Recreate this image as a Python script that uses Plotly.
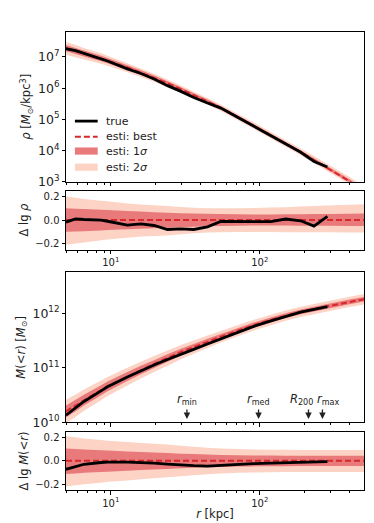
import numpy as np
import plotly.graph_objs as go
from plotly.subplots import make_subplots

# radii [kpc]
r = [5, 5.8, 6.6, 8.6, 9.5, 12.9, 15.9, 19.5, 24, 29.5, 36, 44.5, 54.7, 70.8,
     90, 118.6, 149, 188, 231, 284, 400, 500]
n_true = 20  # true profile stops at r_max

# best-fit profiles (log10)
lg_rho_best = [7.28, 7.19, 7.11, 6.95, 6.88, 6.66, 6.50, 6.34, 6.16, 5.97, 5.78,
               5.58, 5.37, 5.08, 4.81, 4.49, 4.22, 3.95, 3.70, 3.44, 3.02, 2.73]
lg_m_best = [10.20, 10.31, 10.41, 10.59, 10.66, 10.84, 10.96, 11.07, 11.18, 11.29,
             11.38, 11.48, 11.57, 11.68, 11.78, 11.88, 11.96, 12.03, 12.08, 12.13,
             12.21, 12.26]

# residuals of the true profile (lg true - lg best)
d_rho_true = [-0.017, 0.01, 0.005, 0.0, -0.01, -0.043, -0.032, -0.046, -0.08, -0.075,
              -0.08, -0.057, -0.011, -0.012, -0.013, -0.014, 0.009, -0.006, -0.051, 0.031]
d_m_true = [-0.073, -0.05, -0.03, -0.015, -0.011, -0.011, -0.014, -0.02, -0.028, -0.036,
            -0.042, -0.045, -0.038, -0.03, -0.025, -0.02, -0.015, -0.01, -0.008, -0.007]

# density bands (offsets in dex)
rho_2s_up = [0.20, 0.19, 0.18, 0.165, 0.16, 0.14, 0.132, 0.125, 0.12, 0.112, 0.105,
             0.10, 0.10, 0.10, 0.103, 0.107, 0.11, 0.115, 0.12, 0.124, 0.13, 0.134]
rho_2s_lo = [-0.21, -0.20, -0.19, -0.172, -0.166, -0.15, -0.14, -0.135, -0.13, -0.12,
             -0.112, -0.105, -0.103, -0.102, -0.102, -0.102, -0.103, -0.103, -0.104,
             -0.104, -0.105, -0.105]
rho_1s_up = [0.10, 0.097, 0.094, 0.088, 0.085, 0.077, 0.072, 0.067, 0.063, 0.059, 0.056,
             0.053, 0.051, 0.049, 0.048, 0.048, 0.049, 0.05, 0.051, 0.052, 0.054, 0.055]
rho_1s_lo = [-0.10, -0.097, -0.094, -0.088, -0.085, -0.078, -0.074, -0.07, -0.066, -0.061,
             -0.057, -0.053, -0.05, -0.048, -0.046, -0.046, -0.047, -0.048, -0.048,
             -0.049, -0.05, -0.05]

# mass bands (offsets in dex)
m_2s_up = [0.21, 0.20, 0.19, 0.177, 0.172, 0.16, 0.152, 0.145, 0.138, 0.128, 0.12,
           0.112, 0.105, 0.10, 0.097, 0.095, 0.094, 0.093, 0.093, 0.093, 0.093, 0.093]
m_2s_lo = [-0.22, -0.21, -0.20, -0.187, -0.18, -0.168, -0.158, -0.15, -0.142, -0.132,
           -0.123, -0.115, -0.108, -0.103, -0.1, -0.098, -0.097, -0.096, -0.096, -0.096,
           -0.096, -0.096]
m_1s_up = [0.105, 0.10, 0.096, 0.09, 0.087, 0.08, 0.075, 0.07, 0.066, 0.061, 0.057,
           0.053, 0.05, 0.047, 0.045, 0.044, 0.043, 0.042, 0.042, 0.042, 0.042, 0.042]
m_1s_lo = [-0.113, -0.108, -0.103, -0.096, -0.093, -0.085, -0.08, -0.075, -0.07, -0.065,
           -0.06, -0.056, -0.053, -0.05, -0.048, -0.047, -0.046, -0.045, -0.045, -0.045,
           -0.045, -0.045]

# characteristic radii [kpc]
mark_names = ['<i>r</i><sub>min</sub>', '<i>r</i><sub>med</sub>',
              '<i>R</i><sub>200</sub>', '<i>r</i><sub>max</sub>']
mark_r = [32.4, 98, 212, 263]
mark_shift = [0, 0, -7, 6]

x_tickvals = [10, 100]
x_ticktext = ['10<sup>1</sup>', '10<sup>2</sup>']

legend_names = ['true', 'esti: best', 'esti: 1<i>σ</i>', 'esti: 2<i>σ</i>']

RED = '#d8282c'
C1 = '#e97a7b'
C2 = '#fdd3c5'
FONT = 'DejaVu Sans'

fig = make_subplots(rows=4, cols=1)


def band(row, lo, hi, color, log):
    xs = r + r[::-1]
    ys = list(hi) + list(lo)[::-1]
    if log:
        ys = [10 ** v for v in ys]
    fig.add_trace(go.Scatter(x=xs, y=ys, fill='toself', fillcolor=color, mode='none',
                             line=dict(width=0), showlegend=False, hoverinfo='skip'),
                  row=row, col=1)


def add_panel(row, best, d_true, s2u, s2l, s1u, s1l):
    b = np.array(best)
    band(row, b + np.array(s2l), b + np.array(s2u), C2, True)
    band(row, b + np.array(s1l), b + np.array(s1u), C1, True)
    fig.add_trace(go.Scatter(x=r, y=10 ** b, mode='lines', showlegend=False,
                             line=dict(color=RED, width=2, dash='6px,3px')), row=row, col=1)
    tr = b[:n_true] + np.array(d_true)
    fig.add_trace(go.Scatter(x=r[:n_true], y=10 ** tr, mode='lines', showlegend=False,
                             line=dict(color='black', width=2.8)), row=row, col=1)
    # residual panel
    band(row + 1, s2l, s2u, C2, False)
    band(row + 1, s1l, s1u, C1, False)
    fig.add_trace(go.Scatter(x=[r[0], r[-1]], y=[0, 0], mode='lines', showlegend=False,
                             line=dict(color=RED, width=2, dash='6px,3px')), row=row + 1, col=1)
    fig.add_trace(go.Scatter(x=r[:n_true], y=d_true, mode='lines', showlegend=False,
                             line=dict(color='black', width=2.8)), row=row + 1, col=1)


add_panel(1, lg_rho_best, d_rho_true, rho_2s_up, rho_2s_lo, rho_1s_up, rho_1s_lo)
add_panel(3, lg_m_best, d_m_true, m_2s_up, m_2s_lo, m_1s_up, m_1s_lo)

# arrows marking characteristic radii
for nm, rr, sh in zip(mark_names, mark_r, mark_shift):
    fig.add_annotation(x=np.log10(rr), y=10.06, xref='x3', yref='y3', text='',
                       showarrow=True, ax=0, ay=-11, arrowhead=2, arrowsize=1,
                       arrowwidth=1.3, arrowcolor='#222')
    fig.add_annotation(x=np.log10(rr), y=10.24, xref='x3', yref='y3', text=nm,
                       showarrow=False, xshift=sh, yanchor='bottom',
                       font=dict(size=11.5, color='#222', family=FONT))

# legend drawn inside the top panel
leg_y = [113.3, 129, 143.3, 159.5]  # px from top of figure
def ydom(py):
    return (174 - py) / 150
def xdom(px):
    return (px - 55) / 301

fig.add_shape(type='line', xref='x domain', yref='y domain', x0=xdom(64), x1=xdom(87),
              y0=ydom(leg_y[0]), y1=ydom(leg_y[0]), line=dict(color='black', width=2.8))
fig.add_shape(type='line', xref='x domain', yref='y domain', x0=xdom(64), x1=xdom(87),
              y0=ydom(leg_y[1]), y1=ydom(leg_y[1]), line=dict(color=RED, width=2, dash='6px,3px'))
for yy, col in zip(leg_y[2:], [C1, C2]):
    fig.add_shape(type='rect', xref='x domain', yref='y domain', x0=xdom(64), x1=xdom(87),
                  y0=ydom(yy + 3.6), y1=ydom(yy - 3.6), fillcolor=col, line=dict(width=0))
for yy, nm in zip(leg_y, legend_names):
    fig.add_annotation(x=xdom(93), y=ydom(yy), xref='x domain', yref='y domain', text=nm,
                       showarrow=False, xanchor='left', yanchor='middle',
                       font=dict(size=11, color='#222', family=FONT))

domains = [(0.6732, 1.0), (0.5251, 0.6536), (0.1481, 0.4749), (0.0, 0.1264)]
ax_common = dict(showline=True, linecolor='black', linewidth=1, mirror=True,
                 ticks='outside', ticklen=3.5, tickcolor='black', showgrid=False,
                 zeroline=False, tickfont=dict(size=10, family=FONT, color='#222'))
for i in range(4):
    k = '' if i == 0 else str(i + 1)
    fig.layout['xaxis' + k].update(type='log', range=[np.log10(5), np.log10(500)],
                                   tickvals=x_tickvals, ticktext=x_ticktext,
                                   showticklabels=(i in (1, 3)),
                                   minor=dict(ticks='outside', ticklen=2, tickcolor='black',
                                              tickvals=[5, 6, 7, 8, 9, 20, 30, 40, 50, 60, 70,
                                                        80, 90, 200, 300, 400]),
                                   **ax_common)
    fig.layout['yaxis' + k].update(domain=domains[i], **ax_common)

fig.layout.yaxis.update(type='log', range=[3, 7.8], dtick=1, exponentformat='power',
                        title=dict(text='<i>ρ</i> [<i>M</i><sub>⊙</sub>/kpc<sup>3</sup>]',
                                   standoff=4, font=dict(size=11.5, family=FONT)))
fig.layout.yaxis2.update(range=[-0.25, 0.25], tickvals=[-0.2, 0, 0.2], tickformat='.1f',
                         title=dict(text='Δ lg <i>ρ</i>', standoff=4,
                                    font=dict(size=11.5, family=FONT)))
fig.layout.yaxis3.update(type='log', range=[10, 12.75], dtick=1, exponentformat='power',
                         title=dict(text='<i>M</i>(&lt;<i>r</i>) [<i>M</i><sub>⊙</sub>]',
                                    standoff=4, font=dict(size=11.5, family=FONT)))
fig.layout.yaxis4.update(range=[-0.25, 0.245], tickvals=[-0.2, 0, 0.2], tickformat='.1f',
                         title=dict(text='Δ lg <i>M</i>(&lt;<i>r</i>)', standoff=4,
                                    font=dict(size=11.5, family=FONT)))
fig.layout.xaxis4.update(title=dict(text='<i>r</i> [kpc]', standoff=2,
                                    font=dict(size=11.5, family=FONT)))

fig.update_layout(width=374, height=523, margin=dict(l=55, r=18, t=24, b=40),
                  paper_bgcolor='white', plot_bgcolor='white', showlegend=False,
                  font=dict(family=FONT, color='#222'))

fig.write_html('out.html')
